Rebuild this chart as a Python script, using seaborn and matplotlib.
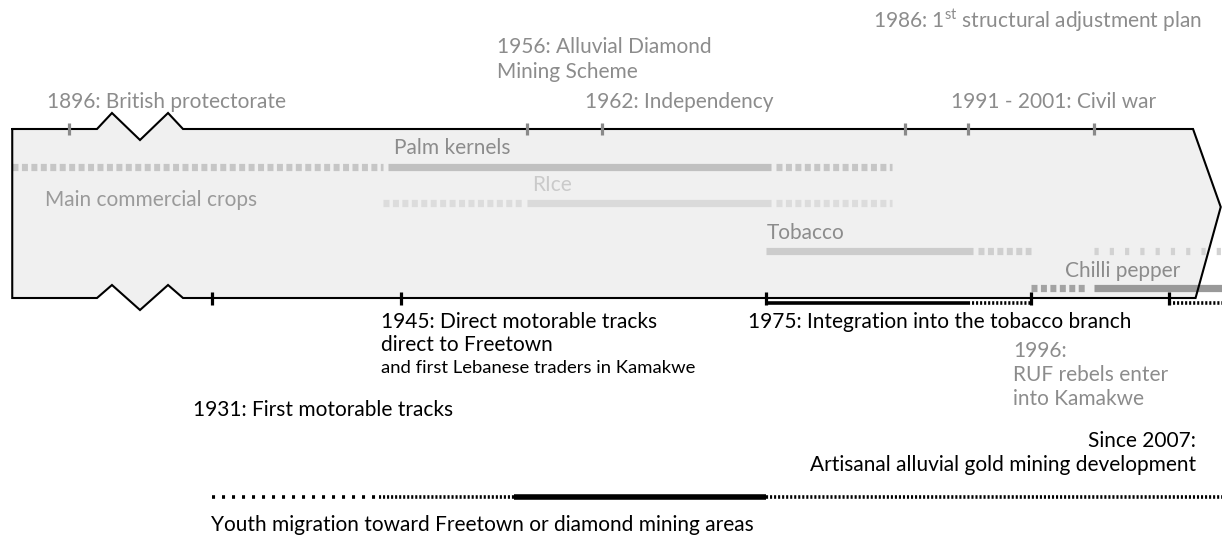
import numpy as np
import pandas as pd
import matplotlib.pyplot as plt
import seaborn as sns

sns.set_theme(style="white")
plt.rcParams["font.family"] = ["Lato", "DejaVu Sans"]
plt.rcParams["mathtext.fontset"] = "custom"
plt.rcParams["mathtext.rm"] = "Lato"
plt.rcParams["lines.scale_dashes"] = False

# --- data (years) ---
top_ticks = [1896, 1956, 1962, 1986, 1991, 2001]
bottom_ticks = [1931, 1946, 1996]          # the 1945 tick sits at ~1946 in the drawing
bracket_years = [1975, 2007]

crops = ["Palm kernels", "Rice", "Tobacco", "Chilli pepper"]
crop_solid_start = [1945, 1956, 1975, 2001]
crop_solid_end = [1975.4, 1975.4, 1991.4, 2011.2]
crop_dash_start = [[1890, 1975.8], [1944.6, 1975.8], [1991.8], [1996]]
crop_dash_end = [[1944.6, 1985], [1955.6, 1985], [1996], [2000.5]]
tobacco_sparse = (2001, 2011.2)

integration_solid = (1975, 1991)
integration_dotted = (1991, 1996)
gold_dotted = (2007, 2011.2)

migration_sparse = (1931, 1944)
migration_dense = [(1944.3, 1955), (1975, 2011.2)]
migration_solid = (1955, 1975)

# broken time axis: compressed before 1899, break to 1929
year_pts = [1700, 1888.7, 1899, 1928.7, 2011.2, 2200]
pix_pts = [0 - 188.7 * 9.4, 0, 97, 183, 1222, 1222 + 188.8 * 12.6]


def fwd(x):
    return np.interp(x, year_pts, pix_pts)


def inv(p):
    return np.interp(p, pix_pts, year_pts)


fig = plt.figure(figsize=(12.22, 5.35), dpi=100)
ax = fig.add_axes([0, 0, 1, 1])
ax.set_xscale("function", functions=(fwd, inv))
ax.set_xlim(inv(0), inv(1222))
ax.set_ylim(535, 0)
ax.axis("off")

# timeline body (box with break zigzags and arrow tip)
y_top, y_bot = 129, 298
b0, b1 = 1899, 1928.7
zz = [b0 + f * (b1 - b0) for f in (0, 0.174, 0.5, 0.826, 1)]
top_zz = [y_top, 113, 140, 113, y_top]
bot_zz = [y_bot, 285, 310, 285, y_bot]
xs = [1890] + zz + [2008.9, 2011.1, 2009.1] + zz[::-1] + [1890, 1890]
ys = [y_top] + top_zz + [y_top, 207, y_bot] + bot_zz[::-1] + [y_bot, y_top]
ax.fill(xs, ys, color="#f0f0f0", zorder=0)
ax.plot(xs, ys, color="black", lw=1.5, zorder=3, solid_joinstyle="miter")

# crop lines
crop_y = [167, 203, 251, 288]
solid_col = {"Palm kernels": "#c0c0c0", "Rice": "#dadada", "Tobacco": "#cccccc", "Chilli pepper": "#999999"}
dash_col = ["#c6c6c6", "#dcdcdc", "#cfcfcf", "#a3a3a3"]
rows = []
for c, y, s, e in zip(crops, crop_y, crop_solid_start, crop_solid_end):
    rows += [{"crop": c, "year": s, "y": y}, {"crop": c, "year": e, "y": y}]
df = pd.DataFrame(rows)
sns.lineplot(data=df, x="year", y="y", hue="crop", palette=solid_col, lw=5.2,
             estimator=None, sort=False, legend=False, ax=ax,
             solid_capstyle="butt", zorder=2)
for y, starts, ends, col in zip(crop_y, crop_dash_start, crop_dash_end, dash_col):
    for s, e in zip(starts, ends):
        ax.plot([s, e], [y, y], color=col, lw=5.2, ls=(0, (4.3, 2.5)),
                dash_capstyle="butt", zorder=2)
ax.plot(tobacco_sparse, [251, 251], color="#d2d2d2", lw=5.2, ls=(0, (3.0, 8.0)),
        dash_capstyle="butt", zorder=2)

# ticks
ax.vlines(top_ticks, 123, 135, color="#8a8a8a", lw=2.3, zorder=4)
ax.vlines(bottom_ticks + bracket_years, 292, 305, color="black", lw=2.3, zorder=4)

# integration bracket and gold mining
dense = (0, (1.5, 1.4))
ax.plot(integration_solid, [303, 303], color="black", lw=2.6, solid_capstyle="butt")
ax.plot(integration_dotted, [303, 303], color="black", lw=2.6, ls=dense, dash_capstyle="butt")
ax.plot(gold_dotted, [303, 303], color="black", lw=2.6, ls=dense, dash_capstyle="butt")

# youth migration
y_mig = 497
ax.plot(migration_sparse, [y_mig, y_mig], color="black", lw=2.6, ls=(0, (2.2, 5.0)),
        dash_capstyle="butt")
for s, e in migration_dense:
    ax.plot([s, e], [y_mig, y_mig], color="black", lw=2.6, ls=dense, dash_capstyle="butt")
ax.plot(migration_solid, [y_mig, y_mig], color="black", lw=4.0, solid_capstyle="butt")

# --- text layer in pixel coordinates ---
tx = fig.add_axes([0, 0, 1, 1])
tx.set_xlim(0, 1222)
tx.set_ylim(535, 0)
tx.axis("off")
tx.patch.set_alpha(0)

grey = "#8c8c8c"
fs = 15
texts = [
    ("1896: British protectorate", 47, 102, grey, fs, "left"),
    ("1956: Alluvial Diamond", 497, 47, grey, fs, "left"),
    ("Mining Scheme", 497, 72, grey, fs, "left"),
    ("1962: Independency", 585, 102, grey, fs, "left"),
    ("1991 - 2001: Civil war", 951, 102, grey, fs, "left"),
    (r"1986: 1$^{\mathrm{st}}$ structural adjustment plan", 873, 21, grey, fs, "left"),
    ("Palm kernels", 394, 148, grey, fs, "left"),
    ("Main commercial crops", 45, 200, "#9a9a9a", fs, "left"),
    ("RIce", 532, 185, "#cacaca", fs, "left"),
    ("Tobacco", 767, 233, grey, fs, "left"),
    ("Chilli pepper", 1065, 271, grey, fs, "left"),
    ("1945: Direct motorable tracks", 381, 322, "black", fs, "left"),
    ("direct to Freetown", 381, 345, "black", fs, "left"),
    ("and first Lebanese traders in Kamakwe", 381, 368, "black", 13.3, "left"),
    ("1975: Integration into the tobacco branch", 748, 322, "black", fs, "left"),
    ("1996:", 1013, 351, grey, fs, "left"),
    ("RUF rebels enter", 1013, 375, grey, fs, "left"),
    ("into Kamakwe", 1013, 399, grey, fs, "left"),
    ("1931: First motorable tracks", 193, 410, "black", fs, "left"),
    ("Since 2007:", 1196, 441, "black", fs, "right"),
    ("Artisanal alluvial gold mining development", 1196, 465, "black", fs, "right"),
    ("Youth migration toward Freetown or diamond mining areas", 211, 525, "black", fs, "left"),
]
for s, x, y, col, size, ha in texts:
    tx.text(x, y, s, color=col, fontsize=size, ha=ha, va="center")

fig.savefig("out.png", dpi=100)
